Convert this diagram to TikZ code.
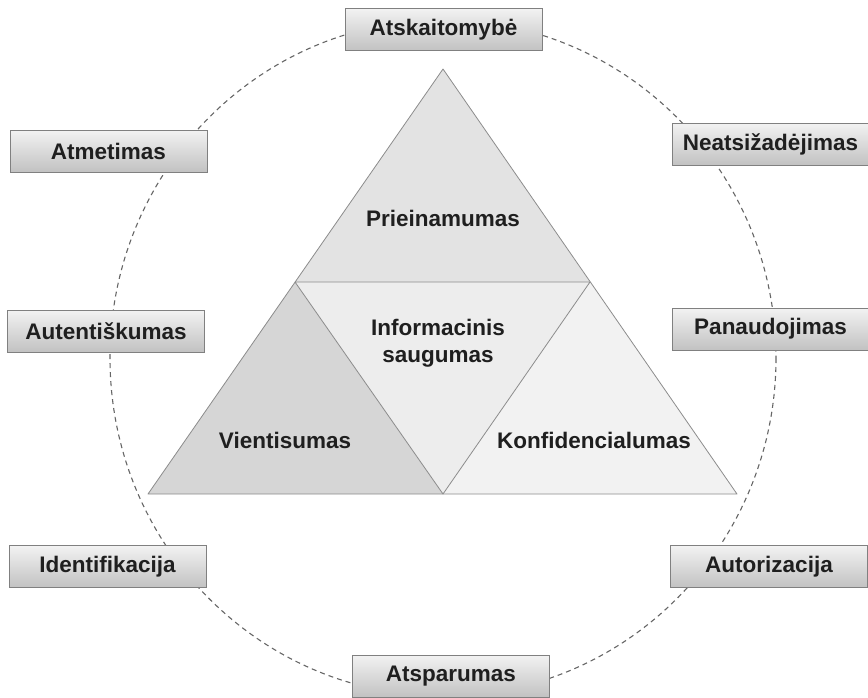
\documentclass[tikz,border=0pt]{standalone}
\usepackage{fontspec}
\setmainfont{Liberation Sans}
\begin{document}
\begin{tikzpicture}[x=1pt,y=-1pt,
  lbl/.style={font=\fontsize{22.5}{27}\selectfont\bfseries, text=black!88, align=center, inner sep=0pt},
  sbox/.style={lbl, draw=black!50, line width=0.9pt, top color=black!5, bottom color=black!24,
    minimum width=197pt, minimum height=42pt},
  tri/.style={draw=black!45, line width=0.8pt, line join=round}]
\useasboundingbox (0,0) rectangle (868,697);
% dashed ellipse
\draw[black!60, line width=1.1pt, dash pattern=on 5pt off 4pt] (443,358) ellipse [x radius=333, y radius=338];
% triangle vertices
\coordinate (A) at (443,69);
\coordinate (L) at (295,282);
\coordinate (R) at (590,282);
\coordinate (BL) at (148,494);
\coordinate (BM) at (443,494);
\coordinate (BR) at (737,494);
\fill[black!11] (A) -- (L) -- (R) -- cycle;
\fill[black!16] (L) -- (BL) -- (BM) -- cycle;
\fill[black!7] (L) -- (R) -- (BM) -- cycle;
\fill[black!5] (R) -- (BM) -- (BR) -- cycle;
\draw[tri] (A) -- (BL) -- (BR) -- cycle;
\draw[tri] (L) -- (R) -- (BM) -- cycle;
% triangle labels
\node[lbl] (prie) at (443,218) {Prieinamumas};
\node[lbl] (info) at (438,343) {Informacinis\\saugumas};
\node[lbl] (vien) at (285,440) {Vientisumas};
\node[lbl] (konf) at (594,440) {Konfidencialumas};
% boxes
\node[sbox] (atsk) at (443.5,29.5) {Atskaitomybė};
\node[sbox] (atme) at (108.5,151) {Atmetimas};
\node[sbox] (neat) at (770.5,144) {Neatsižadėjimas};
\node[sbox] (aute) at (106,331) {Autentiškumas};
\node[sbox] (pana) at (770.5,329) {Panaudojimas};
\node[sbox] (iden) at (107.5,566.5) {Identifikacija};
\node[sbox] (auto) at (769,566.5) {Autorizacija};
\node[sbox] (atsp) at (451,676) {Atsparumas};
\end{tikzpicture}
\end{document}
